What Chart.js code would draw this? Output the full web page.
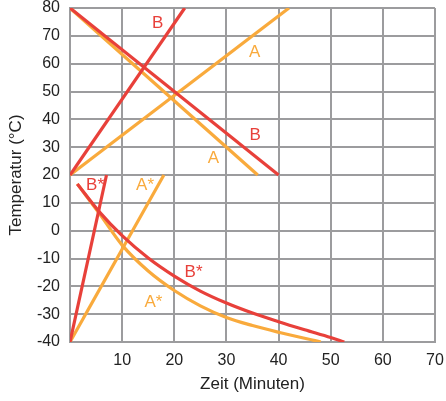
<!DOCTYPE html>
<html>
<head>
<meta charset="utf-8">
<script src="https://cdn.jsdelivr.net/npm/chart.js@4"></script>
<style>
	html, body { margin: 0; padding: 0; background: #fff; }
	#wrap { width: 446px; height: 401px; position: relative; }
</style>
</head>
<body>
<div id="wrap"><canvas id="chart"></canvas></div>
<script>
// straight lines (x = minutes, y = temperature)
const aUpX = [0, 42];
const aUpY = [20, 80];
const bUpX = [0, 22];
const bUpY = [20, 80];
const aDownX = [0, 36];
const aDownY = [80, 20];
const bDownX = [0, 40];
const bDownY = [80, 20];
const aStarUpX = [0, 18];
const aStarUpY = [-40, 20];
const bStarUpX = [0, 7];
const bStarUpY = [-40, 20];
// cooling curves
const aStarCurveX = [1.4, 5.5, 10, 15, 20, 25, 30, 35, 40, 48.1];
const aStarCurveY = [16.8, 6.5, -5.2, -14.5, -21.5, -27, -31.2, -34.1, -36.5, -40];
const bStarCurveX = [1.4, 5.8, 10, 15, 20, 25, 30, 35, 40, 45, 50, 52.6];
const bStarCurveY = [16.8, 6.4, -1.8, -9.8, -16.3, -21.7, -26, -29.6, -32.7, -35.6, -38.4, -40];

// curve labels: text, x, y, series
const labelTexts = ['B', 'A', 'B', 'A', 'B*', 'A*', 'B*', 'A*'];
const labelX = [16.8, 35.4, 35.5, 27.5, 4.8, 14.4, 23.7, 16];
const labelY = [74.4, 64.2, 34.4, 26.1, 16.2, 16.2, -15, -25.9];
const labelSeries = ['B', 'A', 'B', 'A', 'B', 'A', 'B', 'A'];

const xTicks = [0, 10, 20, 30, 40, 50, 60, 70];
const yTicks = [-40, -30, -20, -10, 0, 10, 20, 30, 40, 50, 60, 70, 80];

const RED = '#e8403a';
const ORANGE = '#f9aa3c';
const GRID = '#9c9c9e';
const FONT = "'Liberation Sans', Arial, sans-serif";

function pts(xs, ys) {
	return xs.map((x, i) => ({ x: x, y: ys[i] }));
}

function line(xs, ys, color, curved) {
	return {
		data: pts(xs, ys),
		borderColor: color,
		borderWidth: 3.2,
		pointRadius: 0,
		showLine: true,
		fill: false,
		tension: curved ? 0.4 : 0,
		cubicInterpolationMode: curved ? 'monotone' : 'default',
		borderCapStyle: 'butt',
	};
}

// red first so it is drawn on top
const datasets = [
	line(bUpX, bUpY, RED),
	line(bDownX, bDownY, RED),
	line(bStarUpX, bStarUpY, RED),
	line(bStarCurveX, bStarCurveY, RED, true),
	line(aUpX, aUpY, ORANGE),
	line(aDownX, aDownY, ORANGE),
	line(aStarUpX, aStarUpY, ORANGE),
	line(aStarCurveX, aStarCurveY, ORANGE, true),
];

const curveLabels = {
	id: 'curveLabels',
	afterDatasetsDraw(chart) {
		const ctx = chart.ctx;
		const xs = chart.scales.x;
		const ys = chart.scales.y;
		ctx.save();
		ctx.font = '17px ' + FONT;
		ctx.textAlign = 'center';
		ctx.textBaseline = 'middle';
		labelTexts.forEach((t, i) => {
			ctx.fillStyle = labelSeries[i] === 'A' ? ORANGE : RED;
			ctx.fillText(t, xs.getPixelForValue(labelX[i]), ys.getPixelForValue(labelY[i]));
		});
		ctx.restore();
	},
};

new Chart(document.getElementById('chart'), {
	type: 'scatter',
	data: { datasets: datasets },
	plugins: [curveLabels],
	options: {
		responsive: true,
		maintainAspectRatio: false,
		animation: false,
		events: [],
		layout: { padding: { top: 8, right: 11, left: 0, bottom: 0 } },
		plugins: { legend: { display: false }, tooltip: { enabled: false } },
		scales: {
			x: {
				type: 'linear',
				min: 0,
				max: 70,
				afterBuildTicks: (scale) => {
					scale.ticks = xTicks.map((v) => ({ value: v }));
				},
				afterFit: (scale) => {
					scale.height = 59;
					scale.paddingLeft = 0;
					scale.paddingRight = 0;
				},
				grid: { color: GRID, lineWidth: 2, drawTicks: false },
				border: { color: GRID, width: 2 },
				ticks: {
					color: '#222',
					font: { family: FONT, size: 16 },
					padding: 9,
					maxRotation: 0,
					callback: (v) => (v === 0 ? '' : v),
				},
				title: {
					display: true,
					text: 'Zeit (Minuten)',
					color: '#222',
					font: { family: FONT, size: 17 },
					padding: { top: 0, bottom: 6 },
				},
			},
			y: {
				type: 'linear',
				min: -40,
				max: 80,
				afterBuildTicks: (scale) => {
					scale.ticks = yTicks.map((v) => ({ value: v }));
				},
				afterFit: (scale) => {
					scale.width = 70;
					scale.paddingTop = 0;
					scale.paddingBottom = 0;
				},
				grid: { color: GRID, lineWidth: 2, drawTicks: false },
				border: { color: GRID, width: 2 },
				ticks: {
					color: '#222',
					font: { family: FONT, size: 16, lineHeight: 1 },
					padding: 10,
				},
				title: {
					display: true,
					text: 'Temperatur (°C)',
					color: '#222',
					font: { family: FONT, size: 17 },
					padding: { top: 6, bottom: 0 },
				},
			},
		},
	},
});
</script>
</body>
</html>
